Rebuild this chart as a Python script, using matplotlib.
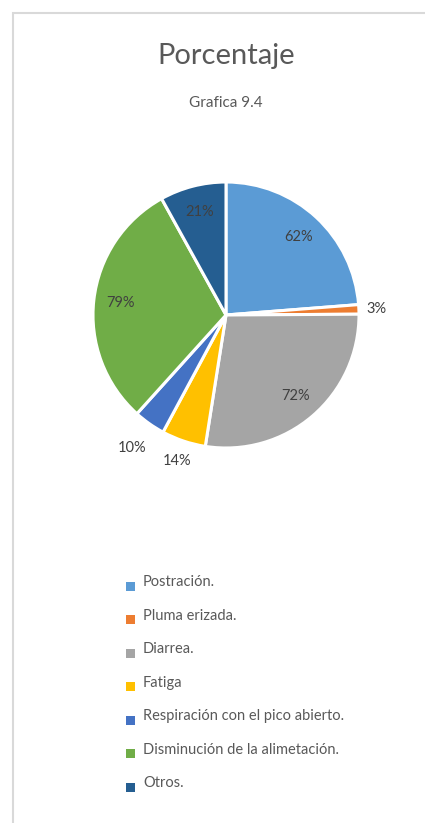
import numpy as np
import matplotlib
matplotlib.use('Agg')
import matplotlib.pyplot as plt
from matplotlib.patches import Rectangle

categories = ['Postración.', 'Pluma erizada.', 'Diarrea.', 'Fatiga',
              'Respiración con el pico abierto.', 'Disminución de la alimetación.', 'Otros.']
values = [62, 3, 72, 14, 10, 79, 21]
colors = ['#5B9BD5', '#ED7D31', '#A5A5A5', '#FFC000', '#4472C4', '#70AD47', '#255E91']
# radial distance of each data label (Excel "best fit")
label_dist = [0.80, 1.13, 0.80, 1.16, 1.22, 0.80, 0.80]

W, H = 425, 823
plt.rcParams['font.family'] = ['Lato', 'DejaVu Sans']

fig = plt.figure(figsize=(W / 100, H / 100), dpi=100)

# chart area border
fig.patches.append(Rectangle((13 / W, -0.01), 1.0, 1 - 13 / H + 0.01, transform=fig.transFigure,
                             fill=False, edgecolor='#D9D9D9', linewidth=1.5))

fig.text(226 / W, 1 - 56 / H, 'Porcentaje', ha='center', va='center', fontsize=21, color='#595959')
fig.text(226 / W, 1 - 103 / H, 'Grafica 9.4', ha='center', va='center', fontsize=11, color='#595959')

cx, cy, r = 226, 315, 133
ax = fig.add_axes([(cx - r) / W, (H - cy - r) / H, 2 * r / W, 2 * r / H])
wedges, _ = ax.pie(values, colors=colors, startangle=90, counterclock=False,
                   wedgeprops=dict(edgecolor='white', linewidth=2.2))
ax.set_xlim(-1, 1)
ax.set_ylim(-1, 1)
ax.set_aspect('auto')
ax.axis('off')

for w, v, d in zip(wedges, values, label_dist):
    ang = np.deg2rad((w.theta1 + w.theta2) / 2)
    ax.text(d * np.cos(ang), d * np.sin(ang), f'{v}%', ha='center', va='center',
            fontsize=10.5, color='#404040', clip_on=False)

# legend
for i, (lab, col) in enumerate(zip(categories, colors)):
    y = 586 + 33.5 * i
    fig.patches.append(Rectangle((126 / W, 1 - (y + 4.5) / H), 9 / W, 9 / H,
                                 transform=fig.transFigure, facecolor=col, edgecolor='none'))
    fig.text(143 / W, 1 - (y - 4) / H, lab, ha='left', va='center', fontsize=10.5, color='#595959')

fig.savefig('out.png', dpi=100, facecolor='white')
